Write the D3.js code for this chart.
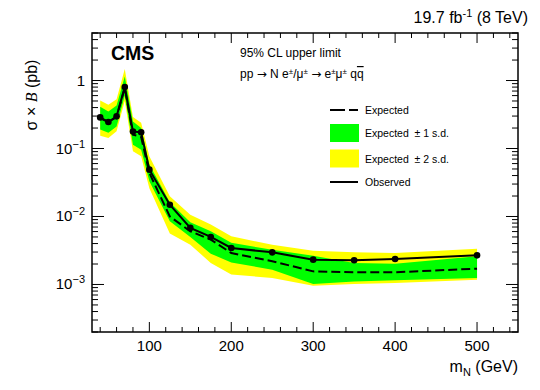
<!DOCTYPE html>
<head>
    <script src="https://cdn.jsdelivr.net/npm/d3@7"></script>
    <style>
        body { margin: 0; background: #fff; }
        text { font-family: "Liberation Sans", Arial, sans-serif; }
    </style>
</head>
<body>
<svg width="540" height="390"></svg>
<script type="text/javascript">
    var svg = d3.select("svg");

    // values
    var mass = [40, 50, 60, 70, 80, 90, 100, 125, 150, 175, 200, 250, 300, 350, 400, 500];
    var observed = [0.287, 0.245, 0.297, 0.80, 0.178, 0.173, 0.0489, 0.0149, 0.0068, 0.0050,
        0.00344, 0.00297, 0.00232, 0.00227, 0.00237, 0.00268];
    var expected = [0.28, 0.245, 0.29, 0.78, 0.16, 0.148, 0.0437, 0.0100, 0.00605, 0.00457,
        0.0029, 0.0022, 0.00156, 0.00151, 0.00151, 0.00171];
    var oneSigmaLow = [0.19, 0.17, 0.21, 0.6, 0.114, 0.096, 0.033, 0.0085, 0.0050, 0.00284,
        0.0021, 0.00165, 0.00102, 0.00111, 0.00115, 0.00125];
    var oneSigmaHigh = [0.41, 0.35, 0.43, 1.15, 0.25, 0.20, 0.058, 0.0162, 0.0082, 0.00605,
        0.0041, 0.00325, 0.00265, 0.00207, 0.00202, 0.0026];
    var twoSigmaLow = [0.154, 0.143, 0.18, 0.5, 0.091, 0.077, 0.026, 0.0056, 0.00385, 0.00207,
        0.0014, 0.00125, 0.00096, 0.00102, 0.00105, 0.00117];
    var twoSigmaHigh = [0.51, 0.44, 0.53, 1.48, 0.29, 0.24, 0.077, 0.0198, 0.0106, 0.0076,
        0.0051, 0.00385, 0.00314, 0.00297, 0.0029, 0.00336];
    var xTicks = [100, 200, 300, 400, 500];
    var yTicks = [1, 0.1, 0.01, 0.001];
    var yTickLabels = ["1", "10|-1", "10|-2", "10|-3"];
    var legendLabels = ["Expected", "Expected  \u00b1 1 s.d.", "Expected  \u00b1 2 s.d.", "Observed"];

    // frame edges (note: "top" is a reserved window property)
    var fLeft = 92, fRight = 518, fTop = 33, fBottom = 332;

    var x = d3.scaleLinear().domain([30, 550]).range([fLeft, fRight]);
    var y = d3.scaleLog().domain([2e-4, 5]).range([fBottom, fTop]);

    var band = function (lo, hi) {
        return d3.area()
            .x(function (d, i) { return x(mass[i]); })
            .y0(function (d, i) { return y(lo[i]); })
            .y1(function (d, i) { return y(hi[i]); })(mass);
    };
    svg.append("path").attr("d", band(twoSigmaLow, twoSigmaHigh)).attr("fill", "#ffff00");
    svg.append("path").attr("d", band(oneSigmaLow, oneSigmaHigh)).attr("fill", "#00ff00");

    var line = d3.line()
        .x(function (d, i) { return x(mass[i]); })
        .y(function (d) { return y(d); });
    svg.append("path").attr("d", line(expected))
        .attr("fill", "none").attr("stroke", "#000").attr("stroke-width", 2)
        .attr("stroke-dasharray", "9,4");
    svg.append("path").attr("d", line(observed))
        .attr("fill", "none").attr("stroke", "#000").attr("stroke-width", 2);
    svg.selectAll("circle")
        .data(observed)
        .enter()
        .append("circle")
        .attr("cx", function (d, i) { return x(mass[i]); })
        .attr("cy", function (d) { return y(d); })
        .attr("r", 3.3)
        .attr("fill", "#000");

    // frame
    svg.append("rect").attr("x", fLeft).attr("y", fTop)
        .attr("width", fRight - fLeft).attr("height", fBottom - fTop)
        .attr("fill", "none").attr("stroke", "#000").attr("stroke-width", 1.5);

    // x axis ticks (bottom and mirrored top)
    var xMinor = d3.range(40, 550, 20);
    var tk = svg.append("g").attr("stroke", "#000").attr("stroke-width", 1);
    xMinor.forEach(function (v) {
        var len = (v % 100 === 0) ? 10 : 5;
        tk.append("line").attr("x1", x(v)).attr("x2", x(v)).attr("y1", fBottom).attr("y2", fBottom - len);
        tk.append("line").attr("x1", x(v)).attr("x2", x(v)).attr("y1", fTop).attr("y2", fTop + len);
    });
    // y axis ticks (left and mirrored right)
    var yMinor = [];
    [1e-4, 1e-3, 1e-2, 1e-1, 1].forEach(function (dec) {
        for (var k = 1; k <= 9; k++) {
            var v = dec * k;
            if (v >= 2e-4 && v <= 5.0001) yMinor.push(v);
        }
    });
    yMinor.forEach(function (v) {
        var major = Math.abs(Math.log10(v) - Math.round(Math.log10(v))) < 1e-6;
        var len = major ? 12 : 6;
        tk.append("line").attr("x1", fLeft).attr("x2", fLeft + len).attr("y1", y(v)).attr("y2", y(v));
        tk.append("line").attr("x1", fRight).attr("x2", fRight - len).attr("y1", y(v)).attr("y2", y(v));
    });

    svg.selectAll(".xlab")
        .data(xTicks)
        .enter()
        .append("text")
        .attr("x", function (d) { return x(d); })
        .attr("y", 351)
        .attr("text-anchor", "middle")
        .attr("font-size", 15)
        .text(function (d) { return d; });

    yTicks.forEach(function (v, i) {
        var parts = yTickLabels[i].split("|");
        var t = svg.append("text")
            .attr("x", 85).attr("y", y(v) + 5)
            .attr("text-anchor", "end").attr("font-size", 15);
        t.append("tspan").text(parts[0]);
        if (parts[1]) {
            t.append("tspan").attr("dy", -6).attr("font-size", 11).text(parts[1].replace("-", "\u2212"));
        }
    });

    // axis titles
    var xt = svg.append("text").attr("x", fRight).attr("y", 372)
        .attr("text-anchor", "end").attr("font-size", 16);
    xt.append("tspan").text("m");
    xt.append("tspan").attr("dy", 4).attr("font-size", 11).text("N");
    xt.append("tspan").attr("dy", -4).text(" (GeV)");

    var yt = svg.append("text")
        .attr("transform", "translate(37,95) rotate(-90)")
        .attr("text-anchor", "middle").attr("font-size", 16);
    yt.append("tspan").text("\u03c3 \u00d7 ");
    yt.append("tspan").attr("font-family", "Liberation Serif, serif").attr("font-style", "italic").text("B");
    yt.append("tspan").text(" (pb)");

    // header
    var lumi = svg.append("text").attr("x", 528).attr("y", 23)
        .attr("text-anchor", "end").attr("font-size", 16);
    lumi.append("tspan").text("19.7 fb");
    lumi.append("tspan").attr("dy", -6).attr("font-size", 11).text("-1");
    lumi.append("tspan").attr("dy", 6).text(" (8 TeV)");

    svg.append("text").attr("x", 111).attr("y", 60)
        .attr("font-size", 19.5).attr("font-weight", "bold").text("CMS");
    svg.append("text").attr("x", 240).attr("y", 57)
        .attr("font-size", 12).text("95% CL upper limit");
    var arrowFont = "DejaVu Sans";
    var proc = svg.append("text").attr("x", 240).attr("y", 78).attr("font-size", 12);
    proc.append("tspan").text("pp ");
    proc.append("tspan").attr("font-family", arrowFont).text("\u2192");
    proc.append("tspan").text(" N e");
    proc.append("tspan").attr("dy", -4).attr("font-size", 8).text("\u00b1");
    proc.append("tspan").attr("dy", 4).text("/\u03bc");
    proc.append("tspan").attr("dy", -4).attr("font-size", 8).text("\u00b1");
    proc.append("tspan").attr("dy", 4).text(" ");
    proc.append("tspan").attr("font-family", arrowFont).text("\u2192");
    proc.append("tspan").text(" e");
    proc.append("tspan").attr("dy", -4).attr("font-size", 8).text("\u00b1");
    proc.append("tspan").attr("dy", 4).text("\u03bc");
    proc.append("tspan").attr("dy", -4).attr("font-size", 8).text("\u00b1");
    proc.append("tspan").attr("dy", 4).text(" q");
    proc.append("tspan").attr("text-decoration", "overline").text("q");

    // legend
    var lg = svg.append("g").attr("transform", "translate(330,0)");
    var rows = [110, 133, 158.5, 182];
    lg.append("line").attr("x1", 0).attr("x2", 28).attr("y1", rows[0]).attr("y2", rows[0])
        .attr("stroke", "#000").attr("stroke-width", 2).attr("stroke-dasharray", "15,4");
    lg.append("rect").attr("x", 0).attr("y", rows[1] - 9).attr("width", 29).attr("height", 18).attr("fill", "#00ff00");
    lg.append("rect").attr("x", 0).attr("y", rows[2] - 9).attr("width", 29).attr("height", 18).attr("fill", "#ffff00");
    lg.append("line").attr("x1", 0).attr("x2", 28).attr("y1", rows[3]).attr("y2", rows[3])
        .attr("stroke", "#000").attr("stroke-width", 2);
    lg.selectAll("text")
        .data(legendLabels)
        .enter()
        .append("text")
        .attr("x", 35)
        .attr("y", function (d, i) { return rows[i] + 4; })
        .attr("font-size", 10.5)
        .attr("xml:space", "preserve")
        .style("white-space", "pre")
        .text(function (d) { return d; });
</script>
</body>
</html>
